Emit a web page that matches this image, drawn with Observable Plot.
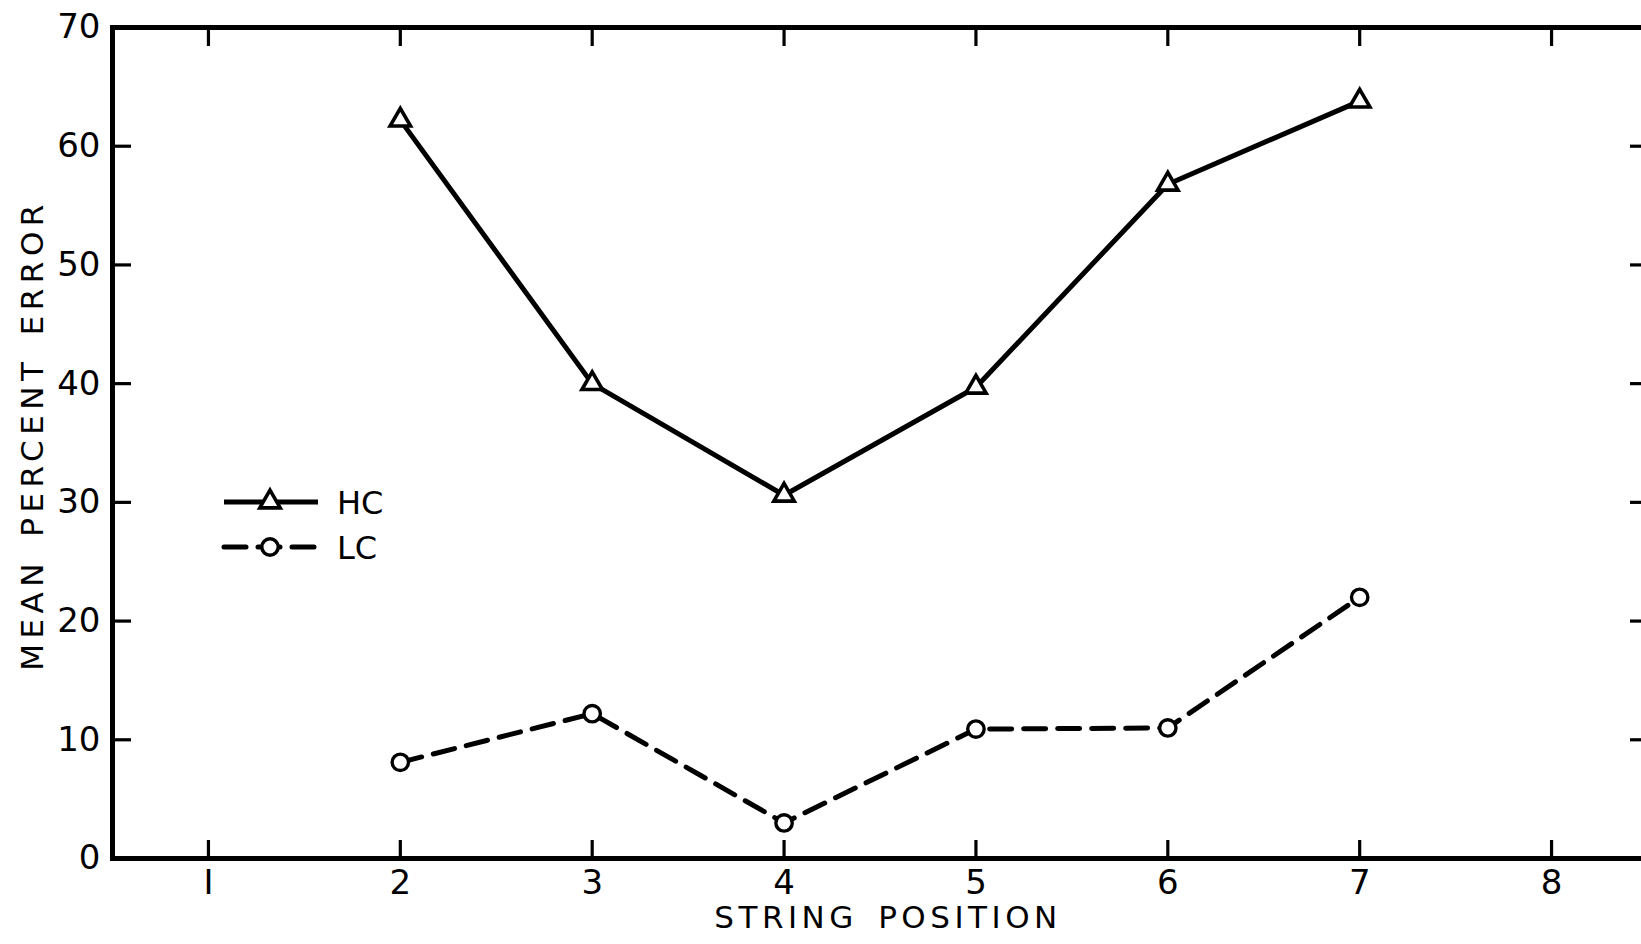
<!DOCTYPE html>
<html><head><meta charset="utf-8">
<script src="https://cdn.jsdelivr.net/npm/d3@7"></script>
<script src="https://cdn.jsdelivr.net/npm/@observablehq/plot@0.6"></script>
<style>
html,body{margin:0;padding:0;background:#fff;overflow:hidden;}
#chart{position:relative;width:1641px;height:944px;overflow:hidden;}
#chart svg{font-family:"DejaVu Sans",sans-serif;max-width:none !important;}
</style></head><body><div id="chart"></div>
<script>
const positions = [2, 3, 4, 5, 6, 7];
const hcValues = [62.2, 40.0, 30.6, 39.7, 56.8, 63.8];
const lcValues = [8.1, 12.2, 3.0, 10.9, 11.0, 22.0];
const xTicks = [1, 2, 3, 4, 5, 6, 7, 8];
const yTicks = [0, 10, 20, 30, 40, 50, 60, 70];
const xTickLabels = ["I", "2", "3", "4", "5", "6", "7", "8"];
const xLabel = "STRING POSITION";
const yLabel = "MEAN PERCENT ERROR";
const seriesNames = ["HC", "LC"];

const hc = positions.map((x, i) => ({x, y: hcValues[i]}));
const lc = positions.map((x, i) => ({x, y: lcValues[i]}));

const W = 1647, H = 944, mL = 112, mR = 0, mT = 27, mB = 86;
const innerW = W - mL - mR, innerH = H - mT - mB;
const innerYTicks = yTicks.filter(d => d > 0 && d < 70);
const lineW = 5, triR = 7.6, circR = 8.2;

const svg = Plot.plot({
  width: W, height: H,
  marginLeft: mL, marginRight: mR, marginTop: mT, marginBottom: mB,
  style: {background: "transparent", color: "#000", fontFamily: "'DejaVu Sans', sans-serif", maxWidth: "none"},
  x: {domain: [0.5, 8.5], axis: null},
  y: {domain: [0, 70], axis: null},
  marks: [
    // inward ticks
    Plot.ruleX(xTicks, {x: d => d, insetTop: innerH - 18, strokeWidth: 3.2, stroke: "#000"}),
    Plot.ruleX(xTicks, {x: d => d, insetBottom: innerH - 19, strokeWidth: 3.2, stroke: "#000"}),
    Plot.ruleY(innerYTicks, {y: d => d, insetRight: innerW - 19, strokeWidth: 3.2, stroke: "#000"}),
    Plot.ruleY(innerYTicks, {y: d => d, insetLeft: innerW - 17, strokeWidth: 3.2, stroke: "#000"}),
    Plot.frame({stroke: "#000", strokeWidth: 5}),
    // tick labels
    Plot.axisX({ticks: xTicks, tickSize: 0, tickPadding: 11, fontSize: 34, label: null,
      tickFormat: d => xTickLabels[xTicks.indexOf(d)]}),
    Plot.axisY({ticks: yTicks, tickSize: 0, tickPadding: 12, fontSize: 34, label: null}),
    // axis titles
    Plot.text([xLabel], {frameAnchor: "bottom", textAnchor: "middle", lineAnchor: "middle", dy: 60, dx: 8, fontSize: 31, text: d => d}),
    Plot.text([yLabel], {frameAnchor: "left", textAnchor: "middle", rotate: -90, dx: -79, dy: -8, fontSize: 31, text: d => d}),
    // data
    Plot.line(hc, {x: "x", y: "y", stroke: "#000", strokeWidth: lineW}),
    Plot.line(lc, {x: "x", y: "y", stroke: "#000", strokeWidth: lineW, strokeDasharray: "22,12", strokeLinecap: "round"}),
    Plot.dot(hc, {x: "x", y: "y", symbol: "triangle", r: triR, fill: "#fff", stroke: "#000", strokeWidth: 3.6}),
    Plot.dot(lc, {x: "x", y: "y", symbol: "circle", r: circR, fill: "#fff", stroke: "#000", strokeWidth: 3.4})
  ]
});

const s = d3.select(svg);
s.selectAll("text").filter(function() { return this.textContent === xLabel; })
  .attr("letter-spacing", "4.5px").attr("word-spacing", "6px");
s.selectAll("text").filter(function() { return this.textContent === yLabel; })
  .attr("letter-spacing", "5.5px").attr("word-spacing", "6px");

// legend
const lg = s.append("g").attr("fill", "none").attr("stroke", "#000");
const legendRows = [
  {name: seriesNames[0], y: 502, dash: null, sym: d3.symbolTriangle},
  {name: seriesNames[1], y: 547, dash: "22,12", sym: d3.symbolCircle}
];
legendRows.forEach(r => {
  lg.append("line").attr("x1", 224).attr("x2", 318).attr("y1", r.y).attr("y2", r.y)
    .attr("stroke-width", lineW).attr("stroke-dasharray", r.dash).attr("stroke-linecap", r.dash ? "round" : null);
  const isTri = r.sym === d3.symbolTriangle;
  const size = isTri ? Math.PI * triR * triR : Math.PI * circR * circR;
  lg.append("path").attr("d", d3.symbol(r.sym, size)()).attr("transform", `translate(270,${r.y})`)
    .attr("fill", "#fff").attr("stroke-width", isTri ? 3.6 : 3.4);
  lg.append("text").attr("x", 337).attr("y", r.y).attr("dy", "0.36em").attr("fill", "#000").attr("stroke", "none")
    .attr("text-anchor", "start").attr("font-size", 32).text(r.name);
});

document.getElementById("chart").appendChild(svg);
</script></body></html>
